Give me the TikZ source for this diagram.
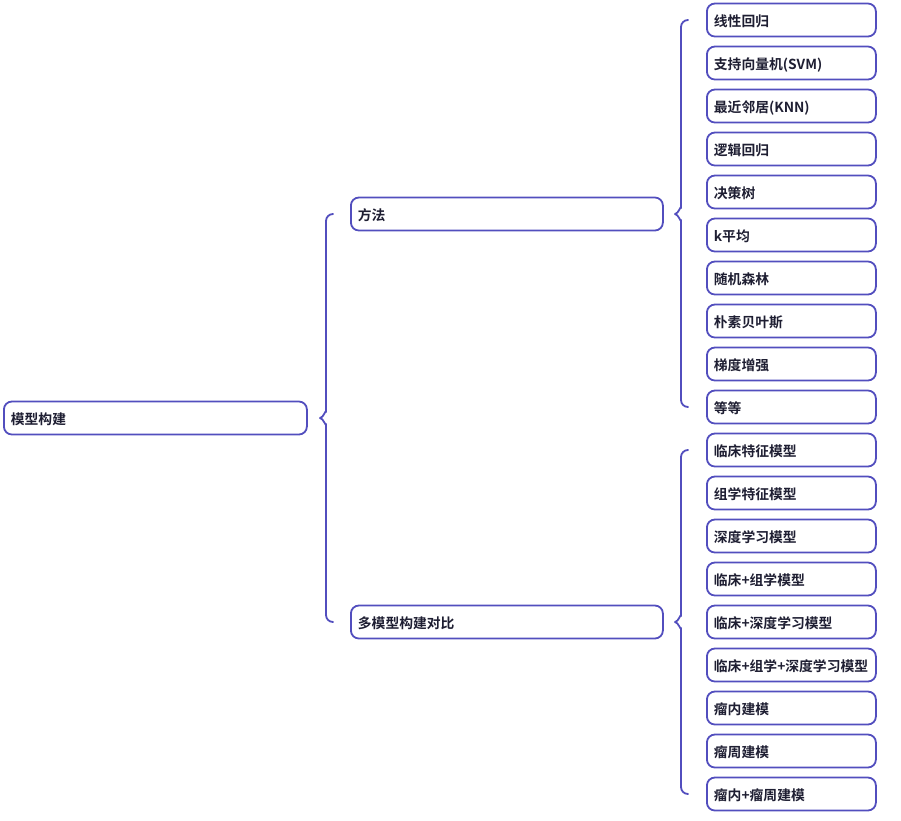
\documentclass[tikz,border=0pt]{standalone}
\usepackage{fontspec}
\newfontfamily\cjk{Noto Sans CJK SC}[BoldFont={Noto Sans CJK SC Bold}]
\usetikzlibrary{calc}
\definecolor{bd}{RGB}{82,78,190}
\definecolor{tx}{RGB}{30,30,50}
\begin{document}
\begin{tikzpicture}[x=1pt,y=-1pt,
  box/.style={draw=bd,line width=1.8pt,rounded corners=8pt,fill=white,
    minimum height=33pt,anchor=west,inner sep=0pt,text=tx,
    text height=12pt,text depth=0pt,
    font=\cjk\bfseries\fontsize{13.8}{15}\selectfont,align=left},
  leaf/.style={box,minimum width=169pt,text width=155pt},
  mid/.style={box,minimum width=312pt,text width=298pt},
  br/.style={draw=bd,line width=1.8pt,line cap=round,line join=round}]
\useasboundingbox (0,0) rectangle (901,820);
\node[box,minimum width=303pt,text width=289pt] (root) at (3,418) {模型构建};
\node[mid] (m1) at (350,214) {方法};
\node[mid] (m2) at (350,622) {多模型构建对比};
\foreach \t [count=\i] in {线性回归,支持向量机(SVM),最近邻居(KNN),逻辑回归,决策树,k平均,随机森林,朴素贝叶斯,梯度增强,等等}{
  \node[leaf] (a\i) at (706,{20+43*(\i-1)}) {\t};
}
\foreach \t [count=\i] in {临床特征模型,组学特征模型,深度学习模型,临床+组学模型,临床+深度学习模型,临床+组学+深度学习模型,瘤内建模,瘤周建模,瘤内+瘤周建模}{
  \node[leaf] (b\i) at (706,{450+43*(\i-1)}) {\t};
}
% braces
\newcommand{\mybrace}[4]{% #1 top node, #2 bottom node, #3 parent node, #4 gap from child left
  \draw[br] ($(#1.west)+(-#4+7,0)$) to[out=180,in=90] ($(#1.west)+(-#4,7)$)
    -- ($(#2.west |- #3.east)+(-#4,-6)$) to[out=90,in=0] ($(#2.west |- #3.east)+(-#4-6,0)$)
    to[out=0,in=-90] ($(#2.west |- #3.east)+(-#4,6)$)
    -- ($(#2.west)+(-#4,-7)$) to[out=-90,in=180] ($(#2.west)+(-#4+7,0)$);
}
\mybrace{m1}{m2}{root}{24}
\mybrace{a1}{a10}{m1}{25}
\mybrace{b1}{b9}{m2}{25}
\end{tikzpicture}
\end{document}
